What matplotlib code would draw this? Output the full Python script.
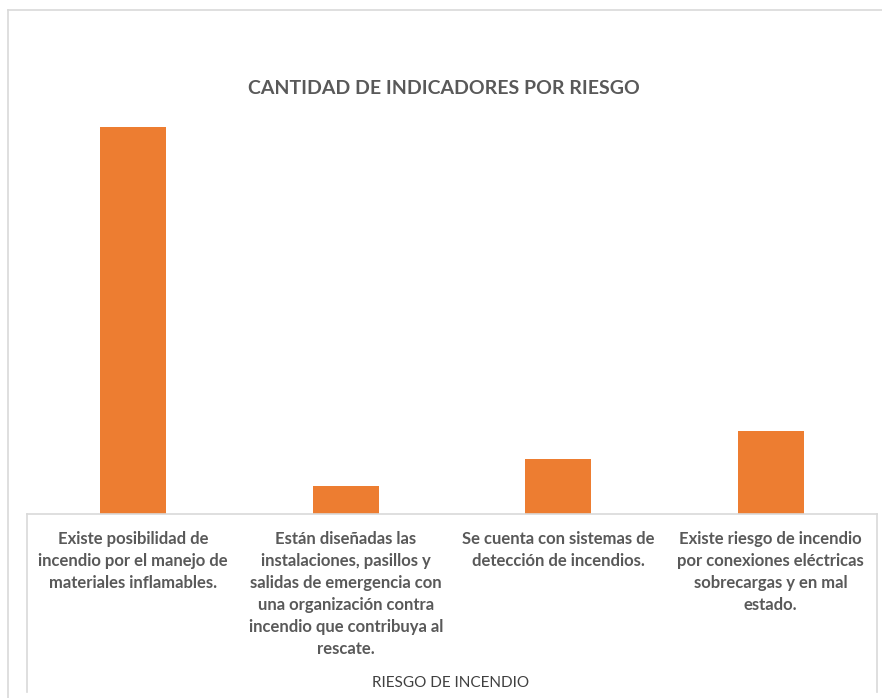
import matplotlib
matplotlib.use("Agg")
import matplotlib.pyplot as plt
from matplotlib.lines import Line2D

# Indicadores por riesgo de incendio
categorias = [
    "Existe posibilidad de\nincendio por el manejo de\nmateriales inflamables.",
    "Están diseñadas las\ninstalaciones, pasillos y\nsalidas de emergencia con\nuna organización contra\nincendio que contribuya al\nrescate.",
    "Se cuenta con sistemas de\ndetección de incendios.",
    "Existe riesgo de incendio\npor conexiones eléctricas\nsobrecargas y en mal\nestado.",
]
cantidad = [14, 1, 2, 3]

W, H = 882, 698
fig = plt.figure(figsize=(W / 100, H / 100), dpi=100)
plt.rcParams['font.family'] = ['Lato', 'DejaVu Sans']

gris = "#595959"
borde = "#d9d9d9"

# area de trazado: de x=27 a x=877, base en y=514
ax = fig.add_axes([27 / W, 1 - 514 / H, 850 / W, 387 / H])
x = range(len(categorias))
ax.bar(x, cantidad, width=0.31, color="#ED7D31", zorder=2)
ax.set_xlim(-0.5, len(categorias) - 0.5)
ax.set_ylim(0, max(cantidad))
ax.set_yticks([])
ax.set_xticks(list(x))
ax.set_xticklabels(categorias, fontsize=12, fontweight="bold", color=gris,
                   linespacing=1.47, va="top")
ax.tick_params(axis="x", length=0, pad=12)
for s in ["top", "left", "right"]:
    ax.spines[s].set_visible(False)
ax.spines["bottom"].set_color(borde)
ax.spines["bottom"].set_linewidth(1.2)

# recuadro de etiquetas y borde del grafico
fig.add_artist(Line2D([27 / W, 27 / W], [1 - 514 / H, 1 - 692 / H], color=borde, lw=1.2))
fig.add_artist(Line2D([877 / W, 877 / W], [1 - 514 / H, 1 - 692 / H], color=borde, lw=1.2))
fig.add_artist(Line2D([8 / W, 8 / W], [0, 1 - 10 / H], color=borde, lw=1.2))
fig.add_artist(Line2D([8 / W, 1], [1 - 10 / H, 1 - 10 / H], color=borde, lw=1.2))

fig.text(444 / W, 1 - 88 / H, "CANTIDAD DE INDICADORES POR RIESGO", ha="center",
         va="center", fontsize=14, fontweight="bold", color=gris)
fig.text(451 / W, 1 - 683 / H, "RIESGO DE INCENDIO", ha="center", va="center",
         fontsize=11, color="#404040")

fig.savefig("out.png", dpi=100)
